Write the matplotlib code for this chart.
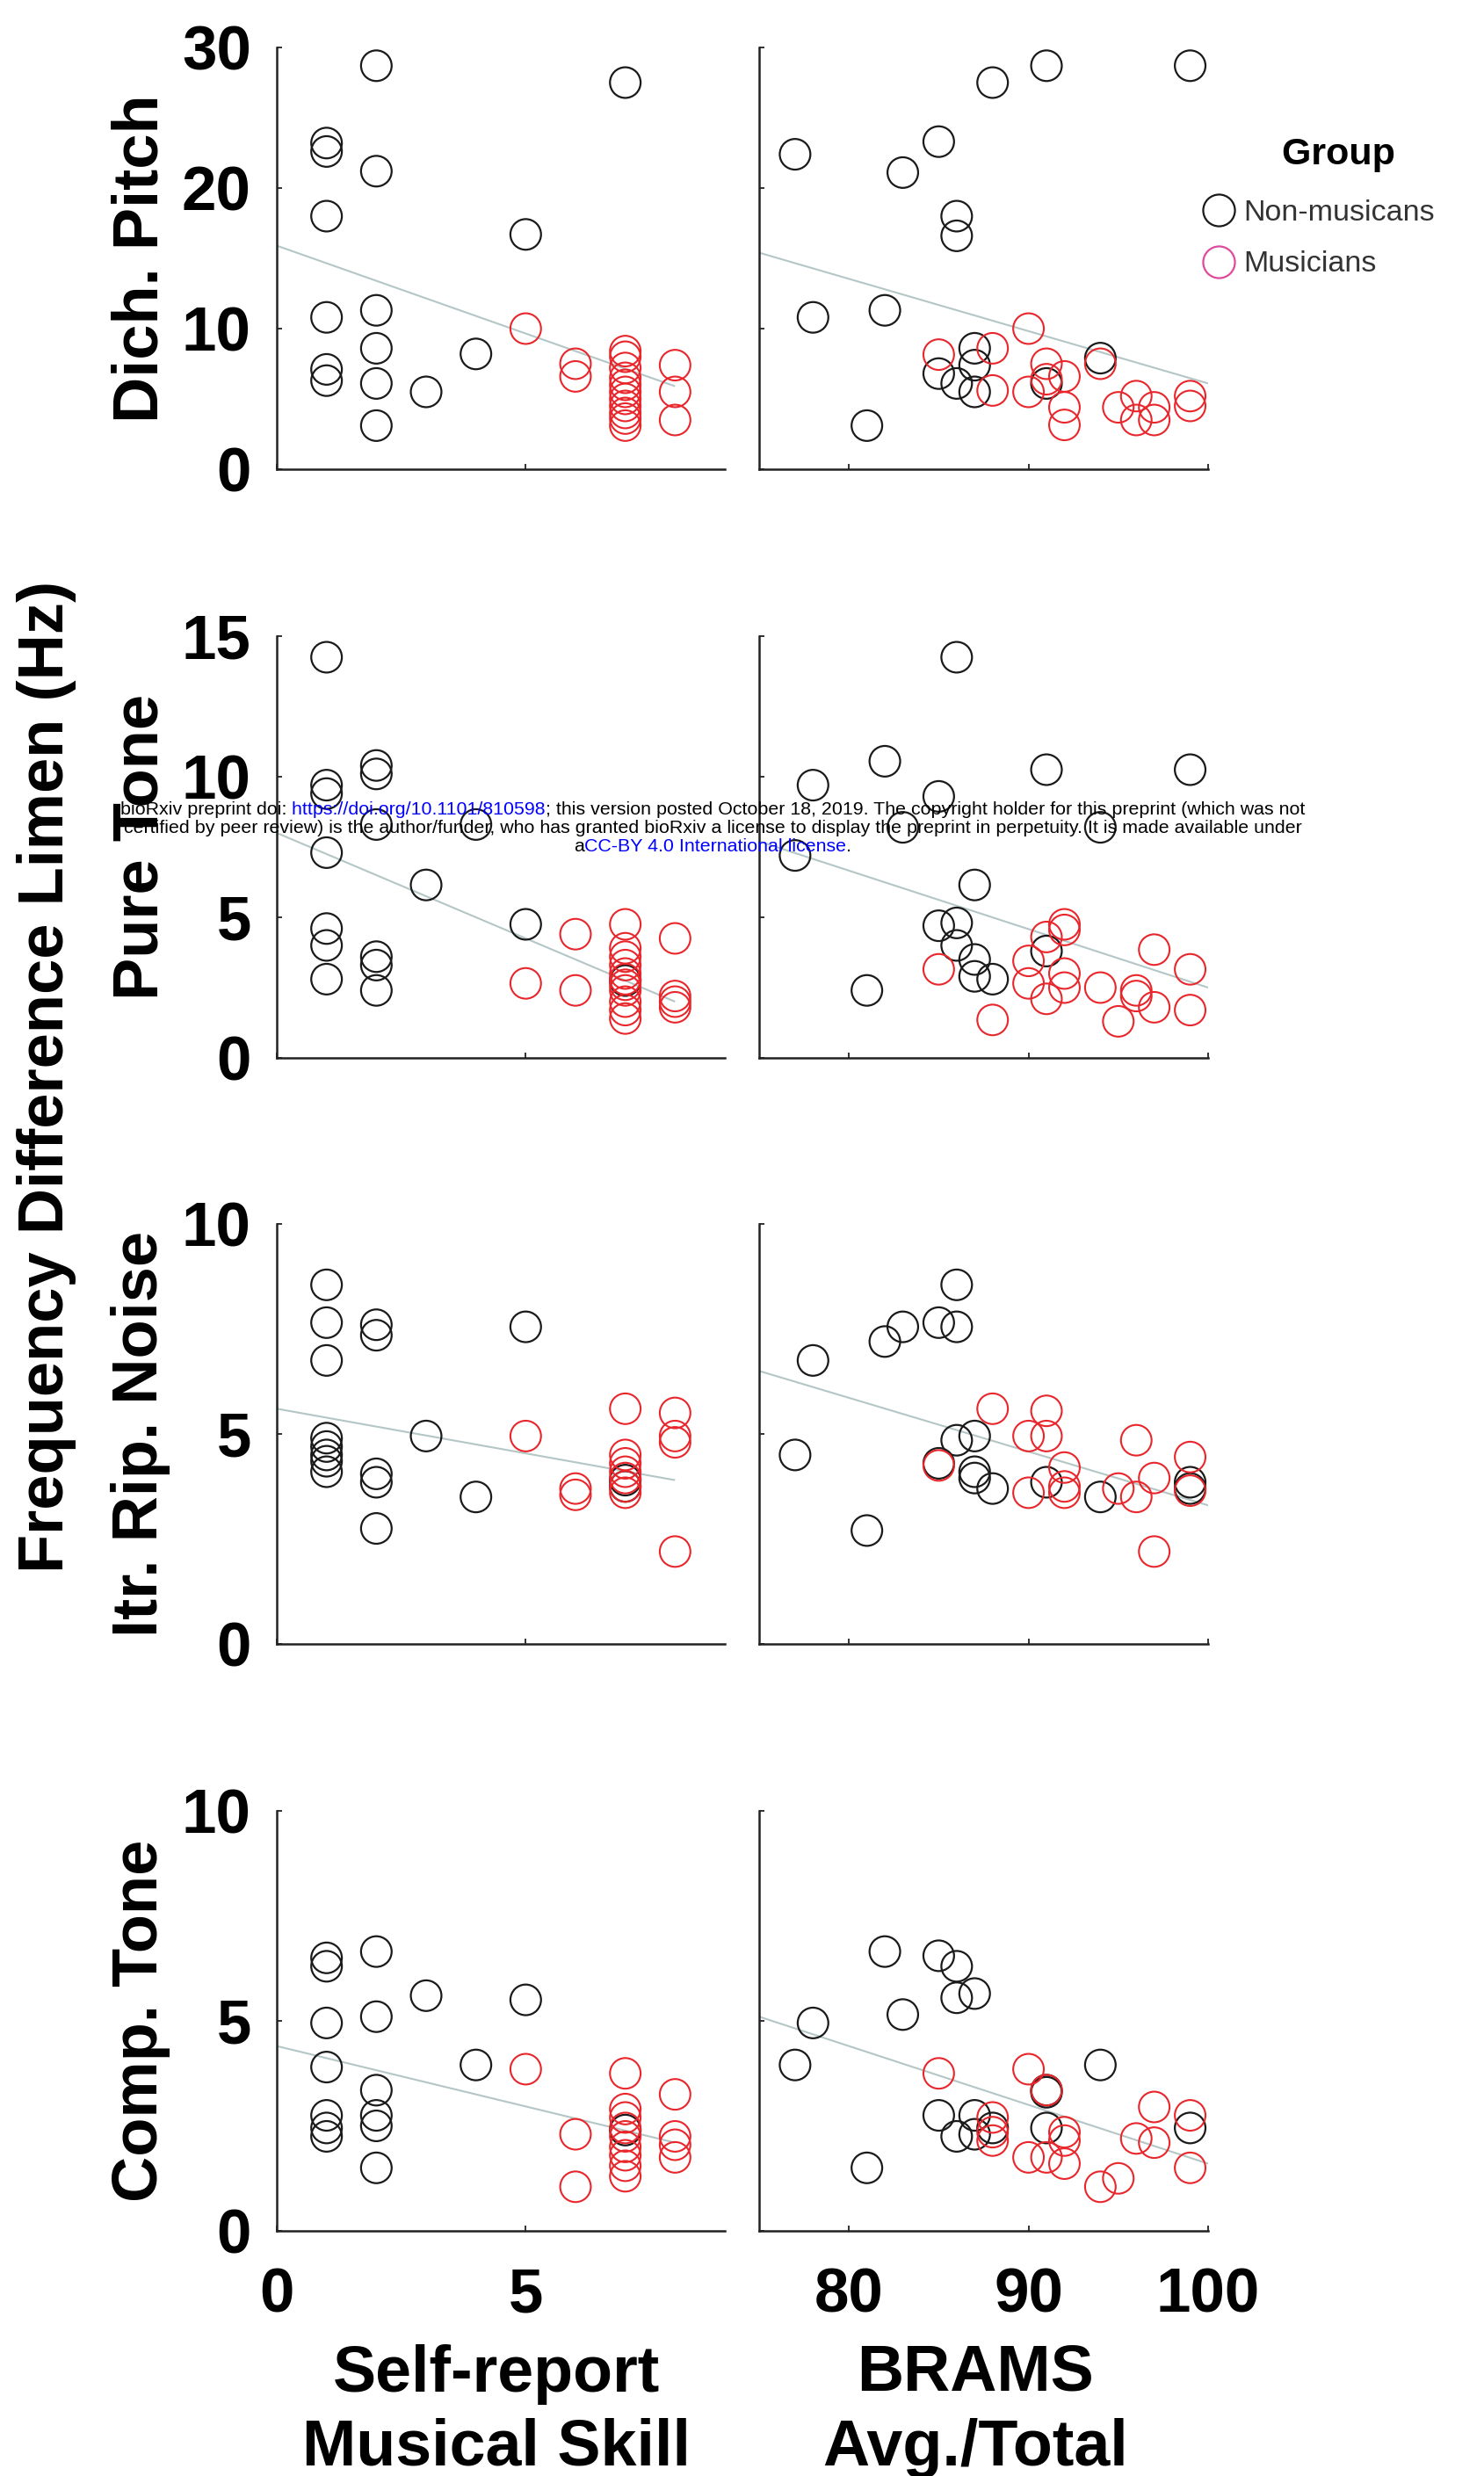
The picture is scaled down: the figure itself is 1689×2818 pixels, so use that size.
import matplotlib
matplotlib.use("Agg")
import matplotlib.pyplot as plt
import matplotlib.transforms as mtransforms
from matplotlib.lines import Line2D

# ---------------- data ----------------
measures = ["Dich. Pitch", "Pure Tone", "Itr. Rip. Noise", "Comp. Tone"]
ymax = [30, 15, 10, 10]
yticks = [[0, 10, 20, 30], [0, 5, 10, 15], [0, 5, 10], [0, 5, 10]]
skill_lim = [0, 9]
brams_lim = [75, 100]
skill_ticks = [0, 5]
brams_ticks = [80, 90, 100]
group_labels = ["Non-musicans", "Musicians"]
col_labels = [["Self-report", "Musical Skill"], ["BRAMS", "Avg./Total"]]
main_ylabel = "Frequency Difference Limen (Hz)"

# Dichotic pitch
dich_skill_nm_x = [1, 1, 1, 1, 1, 1, 2, 2, 2, 2, 2, 2, 3, 4, 5, 7]
dich_skill_nm_y = [23.2, 22.6, 18.0, 10.8, 7.1, 6.3, 28.7, 21.2, 11.3, 8.6, 6.1, 3.1, 5.5, 8.2, 16.7, 27.5]
dich_skill_mu_x = [5, 6, 6, 7, 7, 7, 7, 7, 7, 7, 7, 7, 7, 7, 8, 8, 8]
dich_skill_mu_y = [10.0, 7.5, 6.6, 8.4, 8.0, 7.2, 6.5, 6.0, 5.5, 5.0, 4.5, 4.0, 3.6, 3.1, 7.4, 5.5, 3.5]
dich_brams_nm_x = [77, 78, 81, 82, 83, 85, 86, 86, 88, 91, 99, 94, 85, 87, 87, 86, 87, 91]
dich_brams_nm_y = [22.4, 10.8, 3.1, 11.3, 21.1, 23.3, 18.0, 16.6, 27.5, 28.7, 28.7, 7.9, 6.8, 8.6, 7.4, 6.1, 5.5, 6.1]
dich_brams_mu_x = [85, 88, 88, 90, 90, 91, 91, 92, 92, 92, 94, 95, 96, 96, 97, 97, 99, 99]
dich_brams_mu_y = [8.15, 8.6, 5.6, 10.0, 5.5, 7.5, 6.4, 6.6, 4.4, 3.15, 7.5, 4.4, 5.2, 3.5, 4.4, 3.5, 5.2, 4.5]

# Pure tone
pure_skill_nm_x = [1, 1, 1, 1, 1, 1, 1, 2, 2, 2, 2, 2, 2, 3, 4, 5, 7]
pure_skill_nm_y = [14.25, 9.7, 9.4, 7.3, 4.6, 4.0, 2.8, 10.4, 10.1, 8.3, 3.6, 3.3, 2.4, 6.15, 8.3, 4.75, 2.75]
pure_skill_mu_x = [5, 6, 6, 7, 7, 7, 7, 7, 7, 7, 7, 7, 7, 7, 8, 8, 8, 8]
pure_skill_mu_y = [2.65, 4.4, 2.4, 4.75, 3.9, 3.6, 3.3, 3.0, 2.8, 2.6, 2.4, 2.0, 1.7, 1.4, 4.25, 2.2, 2.0, 1.8]
pure_brams_nm_x = [86, 77, 78, 82, 81, 85, 83, 91, 99, 94, 87, 85, 86, 86, 87, 87, 88, 91]
pure_brams_nm_y = [14.25, 7.2, 9.7, 10.55, 2.4, 9.3, 8.2, 10.25, 10.25, 8.2, 6.15, 4.7, 4.8, 4.0, 3.5, 2.9, 2.8, 3.8]
pure_brams_mu_x = [85, 88, 90, 90, 91, 91, 92, 92, 92, 92, 94, 95, 96, 96, 97, 97, 99, 99]
pure_brams_mu_y = [3.15, 1.35, 3.45, 2.65, 4.3, 2.1, 4.75, 4.55, 3.0, 2.5, 2.5, 1.3, 2.4, 2.2, 3.85, 1.8, 3.15, 1.7]

# Iterated rippled noise
itr_skill_nm_x = [1, 1, 1, 1, 1, 1, 1, 1, 2, 2, 2, 2, 2, 3, 4, 5, 7, 7]
itr_skill_nm_y = [8.55, 7.65, 6.75, 4.9, 4.7, 4.5, 4.35, 4.1, 7.6, 7.35, 4.05, 3.85, 2.75, 4.95, 3.5, 7.55, 3.9, 3.75]
itr_skill_mu_x = [5, 6, 6, 7, 7, 7, 7, 7, 7, 7, 8, 8, 8, 8]
itr_skill_mu_y = [4.95, 3.7, 3.55, 5.6, 4.5, 4.3, 4.1, 3.95, 3.75, 3.6, 5.5, 4.95, 4.8, 2.2]
itr_brams_nm_x = [77, 78, 81, 82, 83, 85, 86, 86, 85, 86, 87, 87, 87, 88, 91, 94, 99, 99]
itr_brams_nm_y = [4.5, 6.75, 2.7, 7.2, 7.55, 7.65, 8.55, 7.55, 4.3, 4.85, 4.95, 4.1, 3.95, 3.7, 3.85, 3.5, 3.85, 3.7]
itr_brams_mu_x = [85, 88, 90, 91, 91, 90, 92, 92, 92, 95, 96, 96, 97, 97, 99, 99]
itr_brams_mu_y = [4.25, 5.6, 4.95, 5.55, 4.95, 3.6, 4.2, 3.75, 3.6, 3.7, 4.85, 3.5, 3.95, 2.2, 4.45, 3.65]

# Complex tone
comp_skill_nm_x = [1, 1, 1, 1, 1, 1, 1, 2, 2, 2, 2, 2, 2, 3, 4, 5, 7]
comp_skill_nm_y = [6.5, 6.3, 4.95, 3.9, 2.75, 2.45, 2.25, 6.65, 5.1, 3.35, 2.75, 2.5, 1.5, 5.6, 3.95, 5.5, 2.4]
comp_skill_mu_x = [5, 6, 6, 7, 7, 7, 7, 7, 7, 7, 7, 7, 8, 8, 8, 8]
comp_skill_mu_y = [3.85, 2.3, 1.05, 3.75, 2.9, 2.7, 2.45, 2.25, 2.0, 1.8, 1.55, 1.3, 3.25, 2.25, 2.05, 1.75]
comp_brams_nm_x = [77, 78, 81, 82, 83, 85, 86, 86, 87, 85, 86, 87, 87, 88, 91, 91, 91, 94, 99]
comp_brams_nm_y = [3.95, 4.95, 1.5, 6.65, 5.15, 6.55, 6.3, 5.55, 5.65, 2.75, 2.25, 2.75, 2.3, 2.45, 3.35, 3.3, 2.45, 3.95, 2.45]
comp_brams_mu_x = [85, 88, 88, 88, 90, 90, 91, 91, 92, 92, 92, 94, 95, 96, 97, 97, 99, 99]
comp_brams_mu_y = [3.75, 2.7, 2.35, 2.15, 3.85, 1.75, 3.35, 1.75, 2.35, 2.15, 1.6, 1.05, 1.25, 2.2, 2.95, 2.1, 2.75, 1.5]

# Regression lines (end points)
fit_skill_x = [0, 8]
fit_brams_x = [75, 100]
dich_fit_skill = [15.9, 5.9]
dich_fit_brams = [15.4, 6.1]
pure_fit_skill = [8.0, 2.0]
pure_fit_brams = [7.7, 2.5]
itr_fit_skill = [5.6, 3.9]
itr_fit_brams = [6.5, 3.3]
comp_fit_skill = [4.4, 2.1]
comp_fit_brams = [5.1, 1.6]

# ---------------- styling / layout ----------------
plt.rcParams.update({
    "font.family": ["Liberation Sans", "DejaVu Sans"],
    "font.weight": "bold",
})

W, H = 1689, 2818
fig = plt.figure(figsize=(W / 100, H / 100), dpi=100)
fig.patch.set_facecolor("white")

BLACK = "#1a1a1a"
RED = "#e8262b"
LEG_RED = "#e04a9c"
FIT = "#b4c6c6"
AXC = "#222222"
MS = 630

row_px = [(54, 534), (724, 1204), (1393, 1871), (2061, 2539)]
col_px = [(315, 825), (864, 1375)]

rows = [
    (dich_skill_nm_x, dich_skill_nm_y, dich_skill_mu_x, dich_skill_mu_y, dich_fit_skill,
     dich_brams_nm_x, dich_brams_nm_y, dich_brams_mu_x, dich_brams_mu_y, dich_fit_brams),
    (pure_skill_nm_x, pure_skill_nm_y, pure_skill_mu_x, pure_skill_mu_y, pure_fit_skill,
     pure_brams_nm_x, pure_brams_nm_y, pure_brams_mu_x, pure_brams_mu_y, pure_fit_brams),
    (itr_skill_nm_x, itr_skill_nm_y, itr_skill_mu_x, itr_skill_mu_y, itr_fit_skill,
     itr_brams_nm_x, itr_brams_nm_y, itr_brams_mu_x, itr_brams_mu_y, itr_fit_brams),
    (comp_skill_nm_x, comp_skill_nm_y, comp_skill_mu_x, comp_skill_mu_y, comp_fit_skill,
     comp_brams_nm_x, comp_brams_nm_y, comp_brams_mu_x, comp_brams_mu_y, comp_fit_brams),
]


def add_ax(c, r):
    x0, x1 = col_px[c]
    y0, y1 = row_px[r]
    return fig.add_axes([x0 / W, 1 - y1 / H, (x1 - x0) / W, (y1 - y0) / H])


for r, data in enumerate(rows):
    for c in range(2):
        ax = add_ax(c, r)
        nm_x, nm_y, mu_x, mu_y, fit_y = data[5 * c: 5 * c + 5]
        fit_x = fit_skill_x if c == 0 else fit_brams_x
        ax.plot(fit_x, fit_y, color=FIT, lw=1.5, zorder=2, solid_capstyle="butt")
        ax.scatter(nm_x, nm_y, s=MS, facecolors="none", edgecolors=BLACK,
                   linewidths=1.6, zorder=3, clip_on=False)
        ax.scatter(mu_x, mu_y, s=MS, facecolors="none", edgecolors=RED,
                   linewidths=1.5, zorder=4, clip_on=False)
        ax.set_ylim(0, ymax[r])
        ax.set_yticks(yticks[r])
        if c == 0:
            ax.set_xlim(*skill_lim)
            ax.set_xticks(skill_ticks)
        else:
            ax.set_xlim(*brams_lim)
            ax.set_xticks(brams_ticks)
        for s in ["top", "right"]:
            ax.spines[s].set_visible(False)
        for s in ["left", "bottom"]:
            ax.spines[s].set_linewidth(1.8)
            ax.spines[s].set_color(AXC)
        ax.tick_params(axis="both", direction="in", length=4, width=1.3, color=AXC,
                       labelsize=51, labelcolor="black")
        ax.tick_params(axis="y", pad=21)
        ax.tick_params(axis="x", pad=30)
        ax.tick_params(axis="y", labelleft=(c == 0))
        ax.tick_params(axis="x", labelbottom=(r == 3))
        if c == 0:
            ax.set_ylabel(measures[r], fontsize=52, fontweight="bold", va="baseline")
            ax.yaxis.set_label_coords((179 - 315) / 510, 0.5)

# main y label
fig.text(72 / W, 1 - 1225 / H, main_ylabel, rotation=90, rotation_mode="anchor",
         ha="center", va="baseline", fontsize=52, fontweight="bold")

# column labels
for (xc, lines) in zip([565, 1110], col_labels):
    for yb, txt in zip([2722, 2806], lines):
        fig.text(xc / W, 1 - yb / H, txt, ha="center", va="baseline",
                 fontsize=53, fontweight="bold")

# legend
handles = [
    Line2D([], [], marker="o", ls="none", mfc="none", mec=BLACK, ms=26, mew=1.6),
    Line2D([], [], marker="o", ls="none", mfc="none", mec=LEG_RED, ms=26, mew=1.6),
]
leg = fig.legend(handles, group_labels, loc="upper left",
                 bbox_to_anchor=(1366 / W, 1 - 156 / H), bbox_transform=fig.transFigure,
                 frameon=False, title="    Group",
                 title_fontproperties={"family": "Liberation Sans", "weight": "bold", "size": 31},
                 prop={"family": "Liberation Sans", "weight": "normal", "size": 24.5},
                 labelcolor="#333333", handlelength=1.25, handletextpad=0.2,
                 labelspacing=0.82, borderpad=0, borderaxespad=0)
leg._legend_box.sep = 22

# bioRxiv watermark (multi-colour lines)
renderer = fig.canvas.get_renderer()
ident = mtransforms.IdentityTransform()
BLUE = "#0000ff"
wm_lines = [
    [("bioRxiv preprint doi:", "black"), (" https://doi.org/10.1101/810598", BLUE),
     ("; this version posted October 18, 2019. The copyright holder for this preprint (which was not", "black")],
    [("certified by peer review) is the author/funder, who has granted bioRxiv a license to display the preprint in perpetuity. It is made available under", "black")],
    [("a", "black"), ("CC-BY 4.0 International license", BLUE), (".", "black")],
]
wm_base = [927, 948, 969]
wm_xc = 811
probe = fig.text(0, 0, "".join(s for s, _ in wm_lines[0]), fontsize=12, fontweight="normal",
                 family="Liberation Sans", transform=ident)
w12 = probe.get_window_extent(renderer).width
probe.remove()
wm_fs = 12 * 1347 / w12
for pieces, yb in zip(wm_lines, wm_base):
    ts = [fig.text(0, H - yb, s, color=col, fontsize=wm_fs, fontweight="normal",
                   family="Liberation Sans", ha="left", va="baseline", transform=ident,
                   zorder=20) for s, col in pieces]
    widths = [t.get_window_extent(renderer).width for t in ts]
    x = wm_xc - sum(widths) / 2
    for t, w in zip(ts, widths):
        t.set_position((x, H - yb))
        x += w

fig.savefig("out.png", dpi=100, facecolor="white")
